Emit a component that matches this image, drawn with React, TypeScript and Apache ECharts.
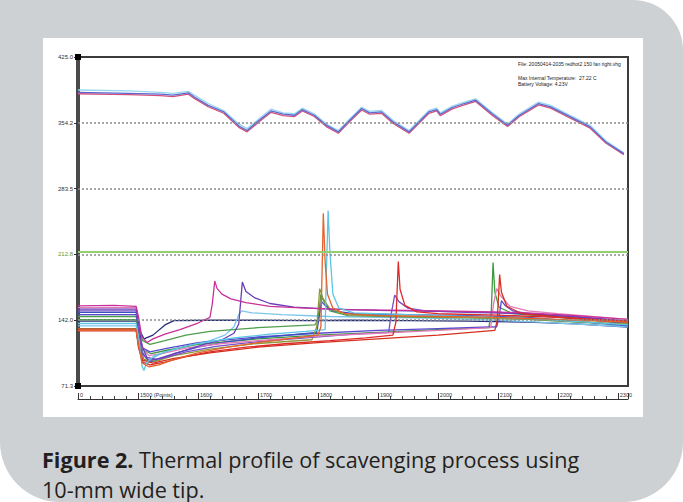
import React, { useEffect, useRef } from "react";
import * as echarts from "echarts";

// ---- axis ticks ----
const yTicks = [71.3, 142.0, 212.8, 283.5, 354.2, 425.0];
const xMin = 1400;
const xMax = 2317;
const dottedLevels = [142.0, 212.8, 283.5, 354.2];
const thresholdLevel = 216;

// ---- upper traces (x in points, y in degrees) ----
const topBlue = [[1400,387],[1485,386],[1538,385],[1558,384],[1584,386.5],[1594,382],[1617,373],[1643,366],[1669,350.6],[1682,346],[1702,357],[1722,367],[1742,363.5],[1761,362.4],[1774,368.5],[1794,362.4],[1814,351.7],[1834,344.5],[1853,357],[1873,369.6],[1886,365],[1906,366],[1925,355.3],[1952,344.5],[1985,366],[1998,368.5],[2004,363.5],[2024,370.7],[2044,375],[2063,378.6],[2090,364.2],[2116,351.7],[2136,362.4],[2168,375],[2188,371.4],[2221,360.6],[2254,349.9],[2280,333.7],[2310,321.1]];
const topPink = [[1400,385.5],[1485,384.5],[1538,383.5],[1558,382.5],[1584,385],[1594,380.5],[1617,371.5],[1643,364.5],[1669,349],[1682,344.5],[1702,355.5],[1722,365.5],[1742,362],[1761,361],[1774,367],[1794,361],[1814,350.2],[1834,343],[1853,355.5],[1873,368],[1886,363.5],[1906,364.5],[1925,353.8],[1952,343],[1985,364.5],[1998,367],[2004,362],[2024,369.2],[2044,373.5],[2063,377.2],[2090,362.7],[2116,350.2],[2136,361],[2168,373.5],[2188,370],[2221,359.2],[2254,348.5],[2280,332.5],[2310,320]];
const topCyan = [[1400,389.5],[1485,388.5],[1538,387],[1558,386],[1584,388],[1594,384],[1617,375],[1643,367.5],[1669,352.5],[1682,348],[1702,358.5],[1722,369],[1742,365],[1761,364],[1774,370],[1794,364],[1814,353],[1834,346],[1853,358.5],[1873,371],[1886,366.5],[1906,367.5],[1925,357],[1952,346],[1985,367.5],[1998,370],[2004,365],[2024,372.2],[2044,376.5],[2063,380],[2090,365.7],[2116,353],[2136,364],[2168,376.5],[2188,373],[2221,362],[2254,351.5],[2280,335],[2310,322]];

// ---- lower traces ----
const traceA = [[1400,157.5],[1460,158],[1497,157],[1501,145],[1506,125],[1515,118],[1525,122],[1545,127],[1570,132],[1600,139],[1620,145],[1624,160],[1628,184],[1632,176],[1640,170],[1655,165],[1680,161],[1720,157],[1780,155],[1850,153.5],[1950,152.5],[2050,151.5],[2150,150],[2230,147],[2317,143]];
const traceB = [[1400,154],[1497,154],[1501,140],[1506,115],[1515,102],[1530,100],[1550,104],[1580,110],[1610,116],[1640,121],[1660,128],[1668,138],[1674,183],[1680,173],[1695,166],[1720,160],[1760,156],[1820,154],[1900,152.5],[2000,151.5],[2100,150.5],[2200,147],[2317,141]];
const traceL = [[1400,136],[1497,136],[1502,118],[1508,98],[1520,100],[1545,108],[1580,114],[1620,120],[1645,126],[1660,135],[1668,148],[1673,152],[1690,150],[1740,148],[1820,146],[1900,145],[2000,144],[2100,142],[2200,139],[2317,135]];
const traceM = [[1400,141],[1497,141],[1502,132],[1510,122],[1525,126],[1545,137],[1560,141.5],[1620,142],[1700,142],[1790,141.5],[1850,142],[1950,141.5],[2050,141],[2150,140],[2230,138],[2317,134.5]];
const traceC = [[1400,150.5],[1497,150.5],[1501,135],[1507,108],[1518,97],[1535,99],[1560,106],[1600,113],[1650,119],[1700,123],[1750,126],[1798,129],[1802,145],[1806,162],[1812,158],[1825,152],[1860,149],[1950,148],[2050,147],[2150,145],[2230,141],[2317,136]];
const traceD = [[1400,146],[1497,146],[1502,132],[1508,120],[1520,116],[1545,120],[1580,126],[1620,130],[1700,134],[1760,136],[1795,137],[1800,142],[1805,170],[1810,162],[1820,152],[1850,147],[1950,145.5],[2050,144.5],[2150,143],[2230,140],[2317,137]];
const traceE = [[1400,131],[1497,131],[1501,115],[1507,96],[1518,92],[1535,94],[1560,100],[1600,107],[1650,113],[1700,118],[1750,122],[1800,126],[1805,135],[1809,257],[1812,205],[1816,170],[1825,155],[1845,149],[1900,147],[2000,146],[2100,145],[2200,143],[2317,140]];
const traceF = [[1400,138.5],[1497,138.5],[1502,118],[1507,92],[1510,88],[1514,96],[1528,104],[1560,111],[1600,117],[1660,123],[1720,127],[1780,130],[1812,132],[1814,190],[1817,260],[1820,215],[1825,170],[1835,155],[1860,150],[1950,148],[2050,146],[2150,144],[2317,137]];
const traceN = [[1400,133],[1497,133],[1502,116],[1510,100],[1530,98],[1560,104],[1620,111],[1700,117],[1790,121],[1798,135],[1803,176],[1808,166],[1820,154],[1850,148],[1950,146],[2050,145],[2150,143],[2317,138]];
const traceG = [[1400,130.7],[1497,130.5],[1501,112],[1508,97],[1520,94],[1545,97],[1580,103],[1620,108],[1680,113],[1750,117],[1820,120],[1880,123],[1925,126],[1930,140],[1934,205],[1937,175],[1945,158],[1965,151],[2000,149],[2100,147.5],[2200,145],[2317,141]];
const traceH = [[1400,152],[1497,152],[1501,135],[1507,106],[1518,99],[1540,101],[1580,108],[1630,114],[1700,119],[1780,123],[1860,127],[1918,129],[1922,148],[1928,169],[1935,162],[1950,155],[1980,152],[2050,150.5],[2150,149],[2230,146],[2317,141]];
const traceI = [[1400,142.5],[1497,142.5],[1502,126],[1508,110],[1522,106],[1550,110],[1600,116],[1700,122],[1800,126],[1900,129],[2000,132],[2085,134],[2089,150],[2092,204],[2095,172],[2102,156],[2125,149],[2200,145],[2317,139]];
const traceJ = [[1400,132.5],[1497,132.5],[1501,115],[1508,99],[1525,96],[1560,101],[1620,107],[1700,113],[1800,118],[1900,122],[2000,126],[2095,131],[2099,142],[2103,191],[2106,172],[2115,157],[2140,149],[2200,145.5],[2317,140]];
const traceK = [[1400,155.5],[1497,155.5],[1501,140],[1507,112],[1518,104],[1540,106],[1580,112],[1640,117],[1720,121],[1800,125],[1900,128],[2000,131],[2088,134],[2093,160],[2098,176],[2105,168],[2120,157],[2150,152],[2200,149],[2317,143]];
const traceO = [[1400,148],[1497,148],[1502,130],[1508,112],[1520,108],[1550,112],[1600,118],[1700,124],[1800,128],[1900,131],[2000,133],[2098,135],[2102,145],[2106,163],[2112,158],[2125,152],[2160,148],[2230,144],[2317,138]];

const corners = [[1400, 425.0], [1400, 71.3]];

const traces: [string, number[][], string][] = [
  ["M", traceM, "#26307a"],
  ["L", traceL, "#7cc6ee"],
  ["D", traceD, "#4e9e4c"],
  ["I", traceI, "#3e9a40"],
  ["O", traceO, "#5a4ad0"],
  ["C", traceC, "#3a52c4"],
  ["N", traceN, "#8e9a3a"],
  ["H", traceH, "#7650c8"],
  ["K", traceK, "#e27ab8"],
  ["B", traceB, "#6a3cb8"],
  ["A", traceA, "#c8309a"],
  ["J", traceJ, "#d6301e"],
  ["G", traceG, "#de2a2a"],
  ["F", traceF, "#5cc6e4"],
  ["E", traceE, "#e4622c"],
];

export default function App() {
  const ref = useRef<HTMLDivElement>(null);
  useEffect(() => {
    document.body.style.margin = "0";
    const chart = echarts.init(ref.current!, undefined, { renderer: "svg" });
    const lineSeries: any[] = [
      ["topCyan", topCyan, "#9ad6ee"],
      ["topPink", topPink, "#d2507a"],
      ["topBlue", topBlue, "#5a68d0"],
    ].map(([name, data, color]: any) => ({
      name, type: "line", data, symbol: "none", z: 3,
      lineStyle: { color, width: 1.3 },
    }));
    const lowerSeries = traces.map(([name, data, color]) => ({
      name, type: "line", data, symbol: "none", z: 3,
      lineStyle: { color, width: 1.3 },
    }));
    chart.setOption({
      animation: false,
      grid: {
        left: 78, top: 57, right: 55, bottom: 116,
        show: true, borderColor: "#3c3c3c", borderWidth: 2,
      },
      xAxis: {
        type: "value", min: xMin, max: xMax, interval: 100, offset: 13,
        axisLine: { show: true, onZero: false, lineStyle: { color: "#333", width: 1 } },
        axisTick: { show: true, inside: true, length: 6, lineStyle: { color: "#333" } },
        minorTick: { show: true, splitNumber: 5, length: 3, lineStyle: { color: "#444" } },
        splitLine: { show: false },
        axisLabel: {
          inside: true, margin: 1, fontSize: 5.5, color: "#333", align: "left",
          padding: [0, 0, 0, 2], fontFamily: "Liberation Sans",
          showMaxLabel: false,
          formatter: (v: number) => {
            if (v % 100 !== 0) return "";
            if (v === 1400) return "0";
            if (v === 1500) return "1500 (Points)";
            return String(v);
          },
        },
      },
      yAxis: {
        type: "value", min: 71.3, max: 425.0,
        axisLine: { show: true, onZero: false, lineStyle: { color: "#4a4a4a", width: 4 } },
        axisTick: { show: true, length: 4, customValues: yTicks, lineStyle: { color: "#333" } },
        splitLine: { show: false },
        axisLabel: {
          customValues: yTicks, fontSize: 6, color: "#333", margin: 5,
          fontFamily: "Liberation Sans",
          formatter: (v: number) => (Math.abs(v - 212.8) < 0.01 ? "{g|212.8}" : v.toFixed(1)),
          rich: { g: { color: "#5c9a3c", fontSize: 6, fontFamily: "Liberation Sans" } },
        },
      },
      graphic: [
        { type: "rect", z: -10, shape: { x: 0, y: 0, width: 683, height: 502, r: [0, 50, 60, 60] }, style: { fill: "#cdd1d4" } },
        { type: "rect", z: -9, shape: { x: 43, y: 38, width: 600, height: 379 }, style: { fill: "#ffffff" } },
        { type: "text", z: 10, x: 518, y: 61, style: { text: "File: 20050414-2035 redhot2 150 fan right.vhg", fontSize: 5, fontFamily: "Liberation Sans", fill: "#222" } },
        { type: "text", z: 10, x: 518, y: 75, style: { text: "Max Internal Temperature:  27.22 C", fontSize: 5, fontFamily: "Liberation Sans", fill: "#222" } },
        { type: "text", z: 10, x: 518, y: 81, style: { text: "Battery Voltage: 4.23V", fontSize: 5, fontFamily: "Liberation Sans", fill: "#222" } },
        {
          type: "text", z: 10, x: 42, y: 444,
          style: {
            text: "{b|Figure 2.}{n| Thermal profile of scavenging process using}\n{n|10-mm wide tip.}",
            fontSize: 21.6, fontFamily: "Open Sans", fill: "#231f20", lineHeight: 30,
            rich: {
              b: { fontWeight: "bold", fontSize: 21.6, fontFamily: "Open Sans", fill: "#231f20", lineHeight: 30 },
              n: { fontSize: 21.6, fontFamily: "Open Sans", fill: "#231f20", lineHeight: 30 },
            },
          },
        },
      ],
      series: [
        {
          name: "grid", type: "line", data: [], z: 1,
          markLine: {
            silent: true, symbol: "none", label: { show: false },
            lineStyle: { color: "#8c8c8c", type: [2, 2], width: 1.5 },
            data: [
              ...dottedLevels.map((v) => ({ yAxis: v })),
              { yAxis: thresholdLevel, lineStyle: { color: "#93cf6e", type: "solid", width: 2 } },
            ],
          },
        },
        ...lineSeries,
        ...lowerSeries,
        {
          name: "corners", type: "scatter", data: corners, symbol: "rect", symbolSize: 6,
          itemStyle: { color: "#000", opacity: 1 }, z: 10, clip: false, silent: true,
        },
      ],
    });
    return () => chart.dispose();
  }, []);
  return <div ref={ref} style={{ position: "absolute", left: 0, top: 0, width: 683, height: 502 }} />;
}
